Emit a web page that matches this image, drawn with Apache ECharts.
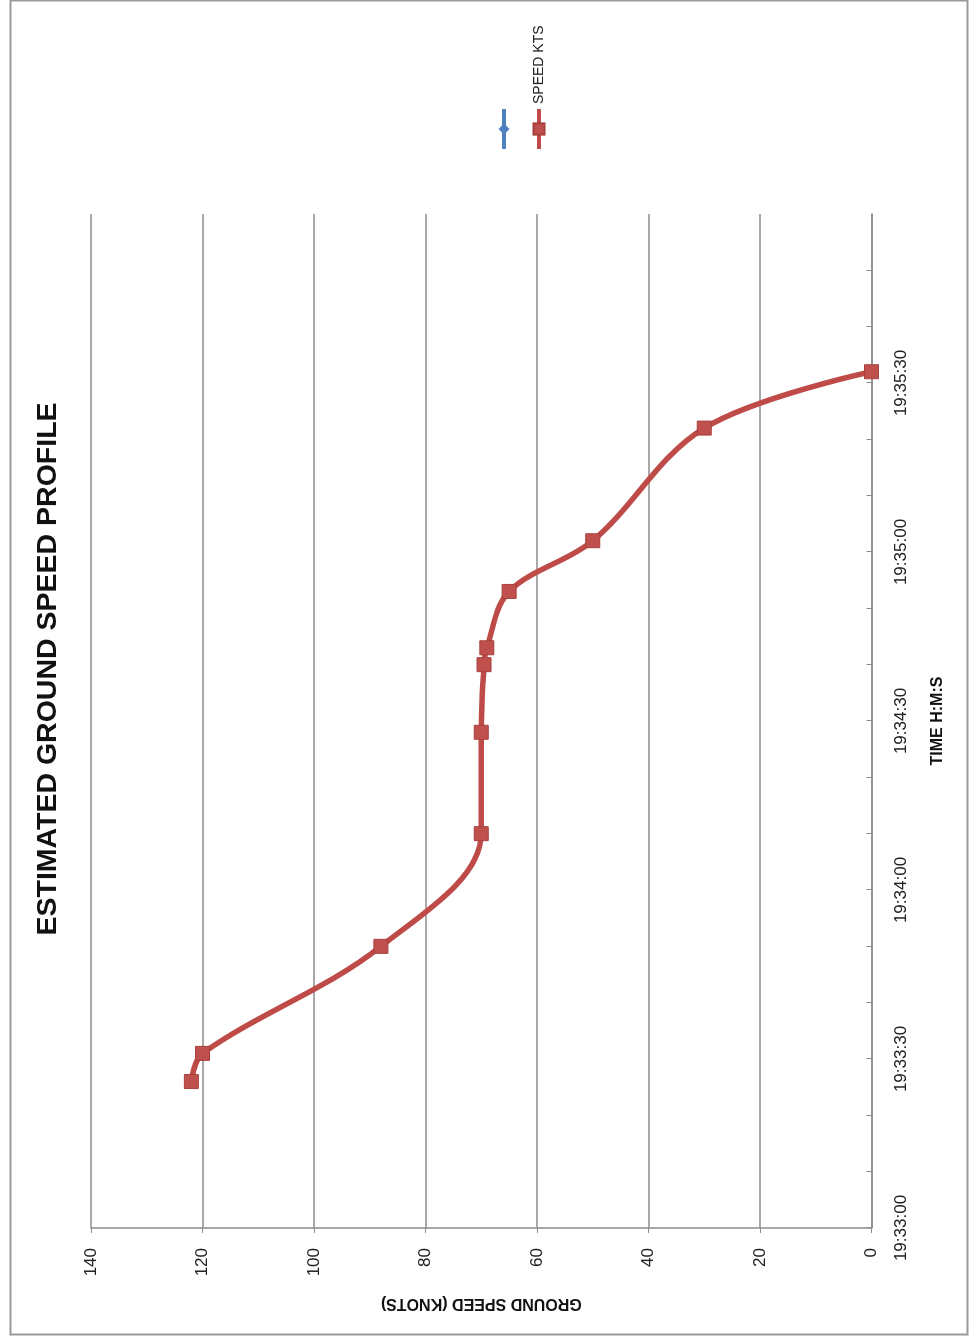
<!DOCTYPE html>
<html>
<head>
<meta charset="utf-8">
<script src="https://cdn.jsdelivr.net/npm/echarts@6/dist/echarts.min.js"></script>
<style>
  html, body { margin: 0; padding: 0; background: #ffffff; overflow: hidden; }
  #page { position: relative; width: 969px; height: 1338px; overflow: hidden; background: #fff; }
  #chart {
    position: absolute; left: 0; top: 0;
    width: 1338px; height: 969px;
    transform-origin: 0 0;
    transform: translate(0px, 1338px) rotate(-90deg);
  }
</style>
</head>
<body>
<div id="page"><div id="chart"></div></div>
<script>
// ---- data ----
const chartTitle = 'ESTIMATED GROUND SPEED PROFILE';
const seriesNames = [' ', 'SPEED KTS'];
const times = ['19:33:26', '19:33:31', '19:33:50', '19:34:10', '19:34:28', '19:34:40',
               '19:34:43', '19:34:53', '19:35:02', '19:35:22', '19:35:32'];
const speeds = [122, 120, 88, 70, 70, 69.5, 69, 65, 50, 30, 0];
const blankSeries = [];
const timeTickLabels = ['19:33:00', '19:33:30', '19:34:00', '19:34:30', '19:35:00', '19:35:30'];
const timeRange = ['19:33:00', '19:36:00'];
const speedTicks = [0, 20, 40, 60, 80, 100, 120, 140];
const xName = 'TIME H:M:S';
const yName = 'GROUND SPEED (KNOTS)';

function toSec(t) {
  const p = t.split(':').map(Number);
  return p[0] * 3600 + p[1] * 60 + p[2];
}
function fmt(s) {
  const h = Math.floor(s / 3600), m = Math.floor((s % 3600) / 60), sec = Math.round(s % 60);
  return h + ':' + String(m).padStart(2, '0') + ':' + String(sec).padStart(2, '0');
}
const labelSet = new Set(timeTickLabels.map(toSec));
const speedData = times.map((t, i) => [toSec(t), speeds[i]]);

const FONT = '"Liberation Sans", Arial, sans-serif';
const GRID = '#8c8c8c';

const chart = echarts.init(document.getElementById('chart'), null, { renderer: 'canvas', width: 1338, height: 969 });
chart.setOption({
  animation: false,
  backgroundColor: '#ffffff',
  textStyle: { fontFamily: FONT },
  title: {
    text: chartTitle,
    left: 'center',
    top: 29,
    textStyle: { fontFamily: FONT, fontSize: 28.5, fontWeight: 'bold', color: '#111' }
  },
  graphic: [{
    type: 'rect', left: 1, top: 8, silent: true,
    shape: { width: 1334, height: 957 },
    style: { fill: 'none', stroke: '#9a9a9a', lineWidth: 2 }
  }],
  legend: {
    orient: 'vertical',
    left: 1182, top: 492,
    itemWidth: 40, itemHeight: 14, itemGap: 21,
    data: seriesNames,
    lineStyle: { width: 4 },
    textStyle: { fontFamily: FONT, fontSize: 14, color: '#222' }
  },
  grid: { left: 110, right: 214, top: 91, bottom: 97.5, containLabel: false, outerBoundsMode: 'none' },
  xAxis: {
    type: 'value',
    min: toSec(timeRange[0]), max: toSec(timeRange[1]), interval: 10,
    name: xName, nameLocation: 'middle', nameGap: 58,
    nameTextStyle: { fontFamily: FONT, fontSize: 16, fontWeight: 'bold', color: '#111' },
    axisLine: { show: true, lineStyle: { color: GRID, width: 1.5 } },
    axisTick: { show: true, inside: true, length: 5, lineStyle: { color: GRID } },
    splitLine: { show: false },
    axisLabel: {
      margin: 21, fontSize: 17, color: '#222', fontFamily: FONT,
      showMaxLabel: false,
      formatter: v => labelSet.has(v) ? fmt(v) : ''
    }
  },
  yAxis: {
    type: 'value',
    min: speedTicks[0], max: speedTicks[speedTicks.length - 1], interval: speedTicks[1] - speedTicks[0],
    name: yName, nameLocation: 'middle', nameGap: 67,
    nameTextStyle: { fontFamily: FONT, fontSize: 16, fontWeight: 'bold', color: '#111' },
    axisLine: { show: true, lineStyle: { color: GRID, width: 1.5 } },
    axisTick: { show: true, inside: false, length: 5, lineStyle: { color: GRID } },
    splitLine: { show: true, lineStyle: { color: GRID, width: 1.5 } },
    axisLabel: { margin: 20, fontSize: 17, color: '#222', fontFamily: FONT }
  },
  series: [
    {
      name: seriesNames[0], type: 'line', data: blankSeries,
      symbol: 'diamond', symbolSize: 10,
      lineStyle: { color: '#4F81BD', width: 4 },
      itemStyle: { color: '#4F81BD' }
    },
    {
      name: seriesNames[1], type: 'line', data: speedData,
      smooth: 0.35,
      symbol: 'rect', symbolSize: 14,
      lineStyle: { color: '#BE4B48', width: 5.5 },
      itemStyle: { color: '#C0504D', borderColor: '#A8403D', borderWidth: 1 }
    }
  ]
});
</script>
</body>
</html>
